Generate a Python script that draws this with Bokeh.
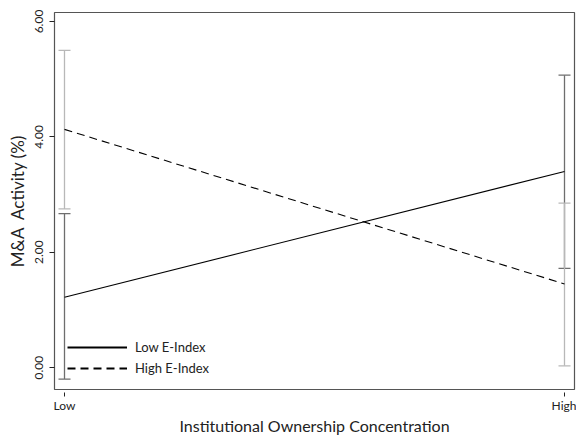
from bokeh.plotting import figure
from bokeh.models import FixedTicker, Whisker, ColumnDataSource, TeeHead, Range1d, Legend, LegendItem
from bokeh.embed import file_html
from bokeh.resources import INLINE

# data
x_labels = ["Low", "High"]
x_pos = [0, 1]
low_e_mean = [1.22, 3.40]
low_e_lower = [-0.20, 1.72]
low_e_upper = [2.67, 5.07]
high_e_mean = [4.13, 1.45]
high_e_lower = [2.75, 0.03]
high_e_upper = [5.50, 2.85]
y_ticks = [0, 2, 4, 6]

FONT = "Lato"
p = figure(width=576, height=437, output_backend="svg", toolbar_location=None,
           x_range=Range1d(-0.02, 1.02), y_range=Range1d(-0.38, 6.156),
           min_border_left=54, min_border_right=2, min_border_top=12, min_border_bottom=47)
p.grid.visible = False
p.outline_line_color = "#555555"
p.outline_line_width = 1.2
p.background_fill_color = "white"

# error bars
def whisk(src, color):
    return Whisker(source=src, base="x", lower="lower", upper="upper", line_color=color, line_width=1.3,
                   upper_head=TeeHead(size=12, line_color=color, line_width=1.3),
                   lower_head=TeeHead(size=12, line_color=color, line_width=1.3))

src_lo = ColumnDataSource(dict(x=x_pos, lower=low_e_lower, upper=low_e_upper))
src_hi = ColumnDataSource(dict(x=x_pos, lower=high_e_lower, upper=high_e_upper))
p.add_layout(whisk(src_lo, "#6e6e6e"))
p.add_layout(whisk(src_hi, "#b8b8b8"))

p.line(x_pos, low_e_mean, line_color="black", line_width=1.1)
p.line(x_pos, high_e_mean, line_color="black", line_width=1.1, line_dash="8 5")

# legend proxies (thicker key lines, no visible marks in the plot)
nan = float("nan")
r1 = p.line([nan], [nan], line_color="black", line_width=2)
r2 = p.line([nan], [nan], line_color="black", line_width=2, line_dash="8 5")

legend = Legend(items=[LegendItem(label="Low E-Index", renderers=[r1]),
                       LegendItem(label="High E-Index", renderers=[r2])],
                location=(13, 12), border_line_color=None, background_fill_alpha=0,
                padding=0, margin=0, spacing=3, glyph_width=60, glyph_height=18,
                label_height=18, label_standoff=8,
                label_text_font=FONT, label_text_font_size="13px", label_text_color="#222222")
p.add_layout(legend, "center")

# axes
p.xaxis.ticker = FixedTicker(ticks=x_pos)
p.xaxis.major_label_overrides = {xv: lab for xv, lab in zip(x_pos, x_labels)}
p.xaxis.axis_label = "Institutional Ownership Concentration"
p.yaxis.ticker = FixedTicker(ticks=y_ticks)
p.yaxis.major_label_overrides = {t: f"{t:.2f}" for t in y_ticks}
p.yaxis.major_label_orientation = "vertical"
p.yaxis.axis_label = "M&A\u00a0 Activity (%)"
for ax in (p.xaxis, p.yaxis):
    ax.axis_line_color = None
    ax.minor_tick_line_color = None
    ax.major_tick_line_color = "#222222"
    ax.major_label_text_font = FONT
    ax.major_label_text_font_size = "12px"
    ax.major_label_text_color = "#222222"
    ax.axis_label_text_font = FONT
    ax.axis_label_text_font_style = "normal"
    ax.axis_label_text_color = "#222222"
p.xaxis.major_tick_in = -3
p.xaxis.major_tick_out = 7
p.xaxis.major_label_standoff = 1
p.xaxis.axis_label_text_font_size = "16px"
p.xaxis.axis_label_standoff = 0
p.yaxis.major_tick_in = 0
p.yaxis.major_tick_out = 5
p.yaxis.major_label_standoff = 6
p.yaxis.axis_label_text_font_size = "17px"
p.yaxis.axis_label_standoff = 5

open("out.html", "w").write(file_html(p, INLINE))
